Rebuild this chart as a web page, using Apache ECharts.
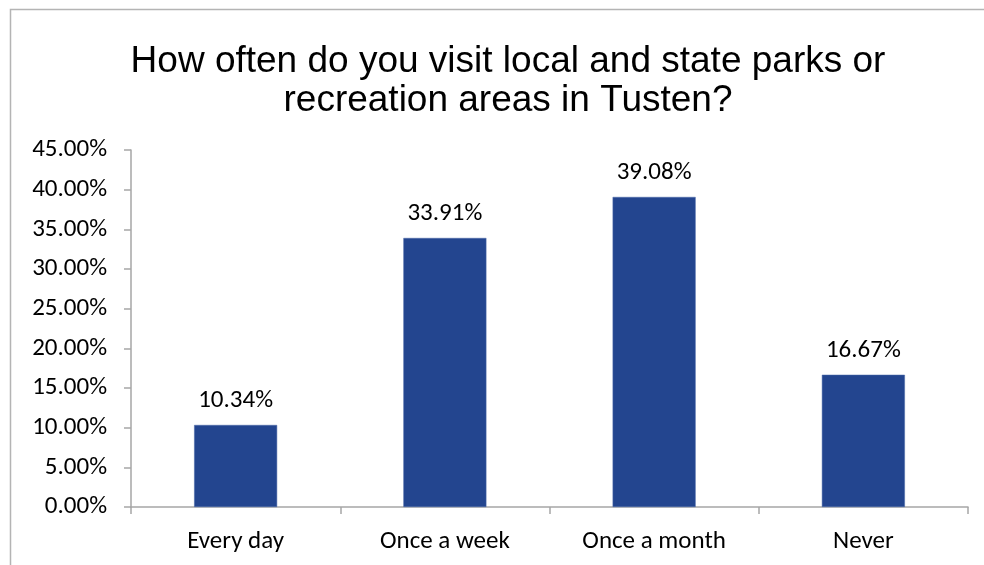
<!DOCTYPE html>
<html>
<head>
<meta charset="utf-8">
<script src="https://cdn.jsdelivr.net/npm/echarts@6/dist/echarts.min.js"></script>
<style>
  html, body { margin: 0; padding: 0; background: #fff; }
  #chart { width: 984px; height: 565px; }
</style>
</head>
<body>
<div id="chart"></div>
<script>
const categories = ["Every day", "Once a week", "Once a month", "Never"];
const values = [10.34, 33.91, 39.08, 16.67];
const yTicks = [0, 5, 10, 15, 20, 25, 30, 35, 40, 45];

const labelFont = "Carlito, Lato, sans-serif";
const axisColor = "#a6a6a6";

const el = echarts.init(document.getElementById("chart"));

options = {
  animation: false,
  title: {
    text: "How often do you visit local and state parks or\nrecreation areas in Tusten?",
    left: 503,
    textAlign: "center",
    top: 37,
    textStyle: {
      fontFamily: "Liberation Sans, Arial, sans-serif",
      fontWeight: "normal",
      fontSize: 37,
      lineHeight: 39,
      color: "#000",
    },
  },
  graphic: [
    {
      type: "rect",
      shape: { x: 10.5, y: 9.5, width: 1000, height: 600 },
      style: { fill: "none", stroke: "#b4b4b4", lineWidth: 1.5 },
      silent: true,
    },
  ],
  grid: {
    left: 131,
    right: 16,
    top: 150,
    bottom: 58,
  },
  xAxis: {
    type: "category",
    data: categories,
    axisLine: { lineStyle: { color: axisColor, width: 1.5 } },
    axisTick: { show: true, length: 7, lineStyle: { color: axisColor, width: 1.5 } },
    axisLabel: {
      margin: 22,
      fontFamily: labelFont,
      fontSize: 25,
      color: "#000",
    },
  },
  yAxis: {
    type: "value",
    min: yTicks[0],
    max: yTicks[yTicks.length - 1],
    interval: 5,
    splitLine: { show: false },
    axisLine: { show: true, lineStyle: { color: axisColor, width: 1.5 } },
    axisTick: { show: true, length: 7, lineStyle: { color: axisColor, width: 1.5 } },
    axisLabel: {
      margin: 24,
      fontFamily: labelFont,
      fontSize: 25,
      color: "#000",
      formatter: function (val) {
        return val.toFixed(2) + "%";
      },
    },
  },
  series: [
    {
      type: "bar",
      data: values,
      barWidth: 83,
      itemStyle: {
        color: "#23458f",
        borderColor: "#4a68a8",
        borderWidth: 0.5,
      },
      label: {
        show: true,
        position: "top",
        distance: 12,
        fontFamily: labelFont,
        fontSize: 25,
        color: "#000",
        formatter: function (p) {
          return p.value.toFixed(2) + "%";
        },
      },
    },
  ],
};

el.setOption(options);
</script>
</body>
</html>
